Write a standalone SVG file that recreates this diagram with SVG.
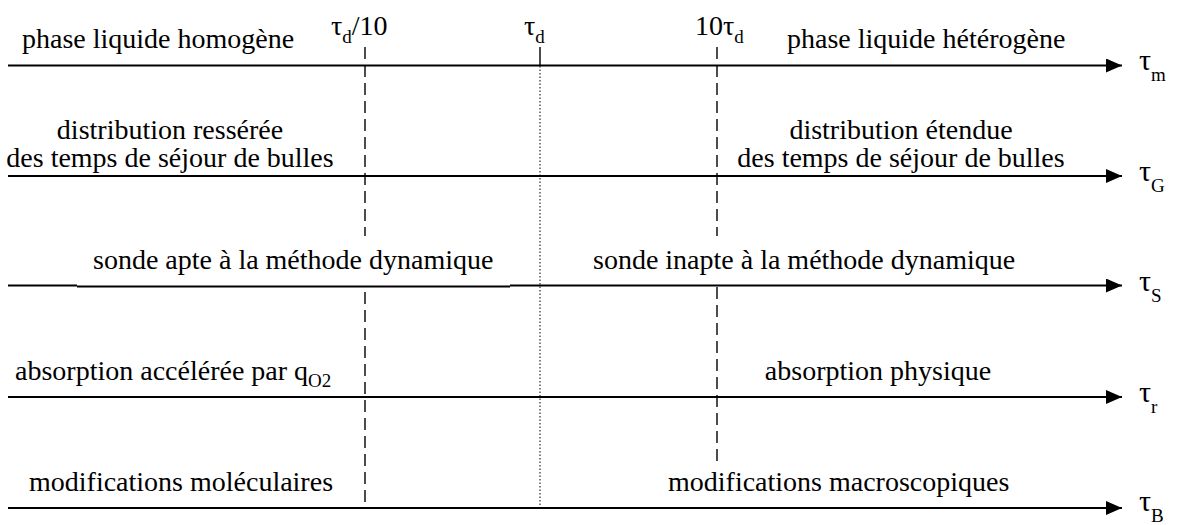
<svg xmlns="http://www.w3.org/2000/svg" width="1181" height="525" viewBox="0 0 1181 525">
<style>
text{font-family:"Liberation Serif","Times New Roman",serif;font-size:28px;fill:#000}
.sub{font-size:19px}
.tau{font-size:30px}
.axis{stroke:#000;stroke-width:2;fill:none}
.dash{stroke:#000;stroke-width:1.4;stroke-dasharray:12 6;fill:none}
.dot{stroke:#000;stroke-width:1;stroke-dasharray:1.5 2;fill:none}
.tick{stroke:#000;stroke-width:1.4;fill:none}
</style>
<defs>
<marker id="arr" markerUnits="userSpaceOnUse" markerWidth="16" markerHeight="14" refX="16" refY="7" orient="auto">
<path d="M0,0 L16,7 L0,14 Z" fill="#000"/>
</marker>
</defs>
<rect width="1181" height="525" fill="#fff"/>
<g id="connectors">
<line class="axis" x1="8" y1="65.5" x2="1122" y2="65.5" marker-end="url(#arr)"/>
<line class="axis" x1="8" y1="176" x2="1122" y2="176" marker-end="url(#arr)"/>
<line class="axis" x1="8" y1="285.5" x2="77" y2="285.5"/>
<line class="axis" x1="77" y1="286.5" x2="510" y2="286.5"/>
<line class="axis" x1="510" y1="285.5" x2="1122" y2="285.5" marker-end="url(#arr)"/>
<line class="axis" x1="8" y1="397" x2="1122" y2="397" marker-end="url(#arr)"/>
<line class="axis" x1="8" y1="508" x2="1122" y2="508" marker-end="url(#arr)"/>
<line class="dash" x1="365" y1="47" x2="365" y2="236"/>
<line class="dash" x1="365" y1="292" x2="365" y2="508"/>
<line class="tick" x1="540" y1="47" x2="540" y2="66"/>
<line class="dot" x1="540" y1="66" x2="540" y2="508"/>
<line class="dash" x1="717" y1="47" x2="717" y2="236"/>
<line class="dash" x1="717" y1="287" x2="717" y2="466"/>
</g>
<g id="tick-labels">
<text x="331" y="35">τ<tspan class="sub" dy="8">d</tspan><tspan dy="-8">/10</tspan></text>
<text x="524" y="35">τ<tspan class="sub" dy="8">d</tspan></text>
<text x="695" y="35">10τ<tspan class="sub" dy="8">d</tspan></text>
</g>
<g id="axis-labels">
<text class="tau" x="1139" y="70">τ<tspan class="sub" dy="11">m</tspan></text>
<text class="tau" x="1139" y="181">τ<tspan class="sub" dy="11">G</tspan></text>
<text class="tau" x="1139" y="291">τ<tspan class="sub" dy="11">S</tspan></text>
<text class="tau" x="1139" y="402">τ<tspan class="sub" dy="11">r</tspan></text>
<text class="tau" x="1139" y="511">τ<tspan class="sub" dy="11">B</tspan></text>
</g>
<g id="row-m">
<text x="22" y="48">phase liquide homogène</text>
<text x="787" y="48">phase liquide hétérogène</text>
</g>
<g id="row-G">
<text x="170" y="139" text-anchor="middle">distribution ressérée</text>
<text x="170" y="167" text-anchor="middle">des temps de séjour de bulles</text>
<text x="901" y="139" text-anchor="middle">distribution étendue</text>
<text x="901" y="167" text-anchor="middle">des temps de séjour de bulles</text>
</g>
<g id="row-S">
<text x="93" y="269">sonde apte à la méthode dynamique</text>
<text x="593" y="269">sonde inapte à la méthode dynamique</text>
</g>
<g id="row-r">
<text x="15" y="380">absorption accélérée par q<tspan class="sub" dy="7">O2</tspan></text>
<text x="878" y="380" text-anchor="middle">absorption physique</text>
</g>
<g id="row-B">
<text x="29" y="491">modifications moléculaires</text>
<text x="668" y="491">modifications macroscopiques</text>
</g>
</svg>
